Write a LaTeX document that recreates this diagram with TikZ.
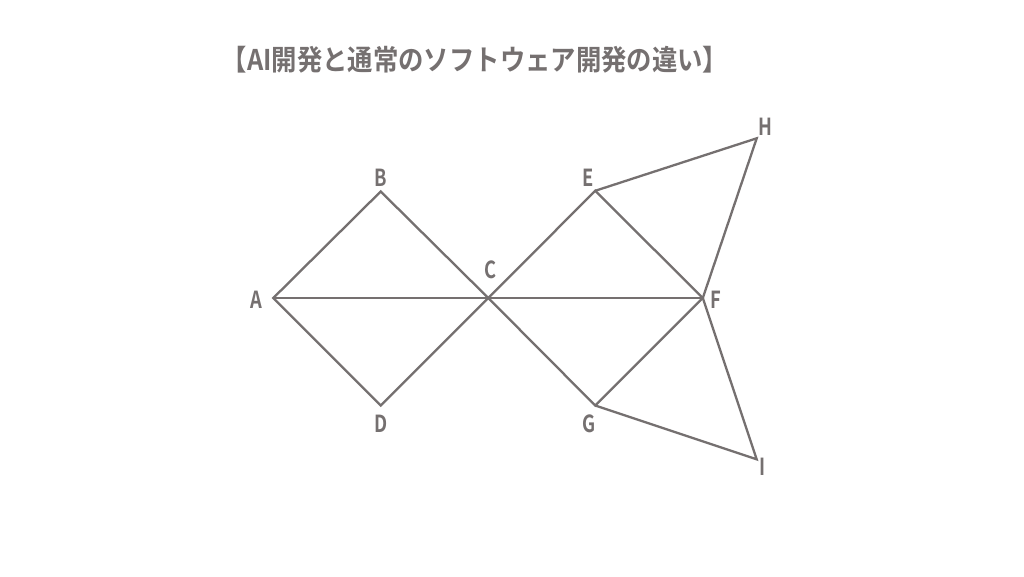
\documentclass[tikz,border=0pt]{standalone}
\usepackage{fontspec}
\setmainfont{Liberation Sans}
\newfontfamily\cjkb[FakeStretch=0.89]{Noto Sans CJK JP Bold}
\newfontfamily\lblf[FakeStretch=0.78]{Noto Sans CJK JP Bold}
\definecolor{ink}{HTML}{757070}
\begin{document}
\begin{tikzpicture}[x=1pt,y=-1pt,
  edge/.style={draw=ink,line width=2.3pt,line join=miter},
  lbl/.style={text=ink,font=\lblf\fontsize{23.5}{23.5}\selectfont,inner sep=0pt},
  ttl/.style={text=ink,font=\cjkb\fontsize{28.5}{28.5}\selectfont,inner sep=0pt}]
\useasboundingbox (0,0) rectangle (1024,576);
\fill[white] (0,0) rectangle (1024,576);
\coordinate (A) at (273.3,298);
\coordinate (B) at (380.7,191.5);
\coordinate (C) at (488.3,298);
\coordinate (D) at (380.7,405.5);
\coordinate (E) at (595.2,190.8);
\coordinate (F) at (702.8,298);
\coordinate (G) at (595.2,405.5);
\coordinate (H) at (756.7,138.3);
\coordinate (I) at (756.7,459.3);
\node[ttl] (title) at (475,60) {【AI開発と通常のソフトウェア開発の違い】};
\draw[edge] (A) -- (B) -- (C) -- (D) -- cycle;
\draw[edge] (A) -- (C);
\draw[edge] (C) -- (E) -- (F) -- (G) -- cycle;
\draw[edge] (C) -- (F);
\draw[edge] (E) -- (H) -- (F) -- (I) -- (G);
\node[lbl] (lA) at (256,300) {A};
\node[lbl] (lB) at (381,177.5) {B};
\node[lbl] (lC) at (491,269.5) {C};
\node[lbl] (lD) at (381,423.5) {D};
\node[lbl] (lE) at (588.5,178) {E};
\node[lbl] (lF) at (715.5,300) {F};
\node[lbl] (lG) at (589,423.5) {G};
\node[lbl] (lH) at (765.5,126.5) {H};
\node[lbl] (lI) at (763,467) {I};
\end{tikzpicture}
\end{document}
